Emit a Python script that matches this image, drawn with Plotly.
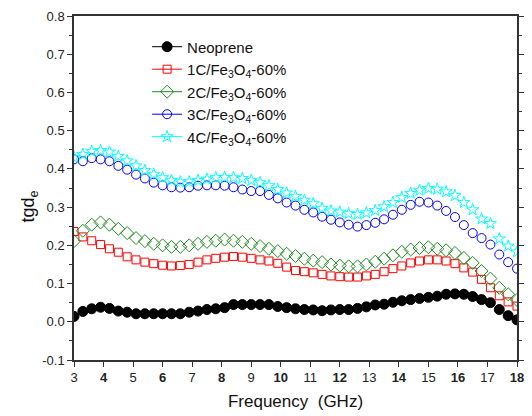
import numpy as np
import plotly.graph_objects as go

freq = [round(3 + 0.3 * i, 1) for i in range(51)]

neoprene = [0.014, 0.027, 0.034, 0.038, 0.035, 0.028, 0.025, 0.021, 0.021, 0.021,
            0.021, 0.021, 0.021, 0.025, 0.028, 0.032, 0.034, 0.037, 0.045, 0.045,
            0.045, 0.045, 0.045, 0.040, 0.037, 0.034, 0.032, 0.031, 0.029, 0.031,
            0.032, 0.032, 0.035, 0.039, 0.044, 0.046, 0.051, 0.055, 0.058, 0.061,
            0.064, 0.067, 0.072, 0.073, 0.072, 0.066, 0.058, 0.050, 0.032, 0.016,
            0.005]
c1 = [0.236, 0.222, 0.212, 0.202, 0.191, 0.182, 0.170, 0.162, 0.156, 0.152,
      0.148, 0.146, 0.147, 0.150, 0.156, 0.162, 0.166, 0.169, 0.171, 0.169,
      0.166, 0.162, 0.159, 0.153, 0.143, 0.134, 0.131, 0.128, 0.124, 0.120,
      0.118, 0.117, 0.117, 0.120, 0.124, 0.131, 0.139, 0.146, 0.154, 0.159,
      0.162, 0.162, 0.159, 0.152, 0.141, 0.130, 0.111, 0.089, 0.068, 0.052,
      0.041]
c2 = [0.211, 0.238, 0.254, 0.260, 0.254, 0.243, 0.232, 0.219, 0.211, 0.204,
      0.200, 0.196, 0.196, 0.200, 0.204, 0.209, 0.212, 0.215, 0.212, 0.209,
      0.204, 0.198, 0.191, 0.185, 0.178, 0.172, 0.165, 0.160, 0.156, 0.150,
      0.147, 0.145, 0.145, 0.150, 0.157, 0.165, 0.174, 0.183, 0.189, 0.193,
      0.195, 0.191, 0.187, 0.180, 0.167, 0.154, 0.133, 0.113, 0.089, 0.072,
      0.057]
c3 = [0.425, 0.420, 0.428, 0.425, 0.420, 0.408, 0.398, 0.385, 0.375, 0.364,
      0.357, 0.352, 0.351, 0.352, 0.356, 0.357, 0.357, 0.356, 0.352, 0.346,
      0.342, 0.342, 0.332, 0.323, 0.312, 0.304, 0.293, 0.286, 0.275, 0.267,
      0.260, 0.254, 0.249, 0.253, 0.259, 0.268, 0.280, 0.293, 0.306, 0.314,
      0.312, 0.304, 0.290, 0.274, 0.253, 0.232, 0.219, 0.202, 0.176, 0.156,
      0.139]
c4 = [0.430, 0.438, 0.446, 0.448, 0.444, 0.433, 0.421, 0.408, 0.396, 0.386,
      0.377, 0.370, 0.366, 0.366, 0.370, 0.373, 0.377, 0.378, 0.377, 0.375,
      0.370, 0.364, 0.356, 0.346, 0.337, 0.328, 0.318, 0.309, 0.297, 0.290,
      0.287, 0.283, 0.281, 0.285, 0.291, 0.301, 0.312, 0.325, 0.336, 0.344,
      0.349, 0.347, 0.340, 0.330, 0.312, 0.293, 0.269, 0.257, 0.217, 0.198,
      0.183]

names = ["Neoprene", "1C/Fe<sub>3</sub>O<sub>4</sub>-60%", "2C/Fe<sub>3</sub>O<sub>4</sub>-60%",
         "3C/Fe<sub>3</sub>O<sub>4</sub>-60%", "4C/Fe<sub>3</sub>O<sub>4</sub>-60%"]
series = [neoprene, c1, c2, c3, c4]
colors = ["#000000", "#FF0000", "#1E8C1E", "#0000FF", "#00FFFF"]
symbols = ["circle", "square-open", "diamond-open", "circle-open", "star-open"]
sizes = [10, 8, 10, 9, 9]

xticks = list(range(3, 19))
xticktext = [("<b>%d</b>" % v) if v % 2 == 0 else str(v) for v in xticks]
yticks = [round(-0.1 + 0.1 * i, 1) for i in range(10)]

fig = go.Figure()
for nm, ys, col, sym, sz in zip(names, series, colors, symbols, sizes):
    fig.add_trace(go.Scatter(x=freq, y=ys, mode="markers", showlegend=False,
                             marker=dict(symbol=sym, color=col, size=sz,
                                         line=dict(color=col, width=1))))
for nm, col, sym, sz in zip(names, colors, symbols, sizes):
    fig.add_trace(go.Scatter(x=[None], y=[None], mode="lines+markers", name=nm,
                             line=dict(color=col, width=1),
                             marker=dict(symbol=sym, color=col, size=sz,
                                         line=dict(color=col, width=1))))

axis_font = dict(family="Liberation Sans, Arial, sans-serif", size=13, color="#222")
fig.update_layout(
    width=532, height=416,
    margin=dict(l=74, r=8, t=16, b=53),
    paper_bgcolor="white", plot_bgcolor="white",
    font=dict(family="Liberation Sans, Arial, sans-serif", color="#111"),
    xaxis=dict(range=[3, 18], tickvals=xticks, ticktext=xticktext,
               showline=True, linecolor="#333", linewidth=1.5, mirror=True,
               ticks="outside", ticklen=5, tickcolor="#333",
               showgrid=False, zeroline=False, tickfont=axis_font,
               title=dict(text="Frequency  (GHz)", font=dict(size=17), standoff=11)),
    yaxis=dict(range=[-0.1, 0.8], tickvals=yticks,
               ticktext=["%.1f" % v for v in yticks],
               showline=True, linecolor="#333", linewidth=1.5, mirror="ticks",
               ticks="outside", ticklen=5, tickcolor="#333",
               minor=dict(ticks="outside", ticklen=3, dtick=0.05, tickcolor="#333"),
               showgrid=False, zeroline=False, tickfont=axis_font),
    legend=dict(x=0.165, y=0.958, xanchor="left", yanchor="top",
                bgcolor="rgba(0,0,0,0)", font=dict(size=15, color="#111"),
                tracegroupgap=0, itemwidth=30),
    annotations=[dict(text="tgd<sub>e</sub>", xref="paper", yref="paper",
                      x=-0.1, y=0.445, xanchor="center", yanchor="middle",
                      textangle=-90, showarrow=False,
                      font=dict(size=18, color="#111"))],
)
fig.write_html("out.html")
